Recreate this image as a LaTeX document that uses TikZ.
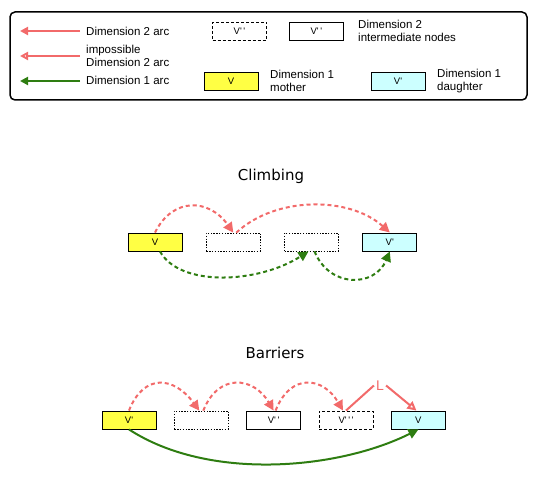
\documentclass[tikz,border=0pt]{standalone}
\usepackage{fontspec}
\setmainfont{Liberation Sans}
\newfontfamily\titlefont{DejaVu Sans}
\usetikzlibrary{arrows.meta,positioning}
\definecolor{arcred}{RGB}{242,106,106}
\definecolor{arcgreen}{RGB}{46,125,17}
\definecolor{motheryellow}{RGB}{255,255,68}
\definecolor{daughtercyan}{RGB}{204,255,255}

\begin{document}
\begin{tikzpicture}[
            x=1pt, y=1pt,
            node distance=23.5pt,
            box/.style={rectangle, draw, line width=0.9pt, minimum width=54pt, minimum height=18pt, inner sep=0pt, font=\fontsize{9.5}{10}\selectfont},
            mother/.style={fill=motheryellow},
            daughter/.style={fill=daughtercyan},
            dashbox/.style={dash pattern=on 3pt off 2pt},
            dotbox/.style={line width=0.7pt, dash pattern=on 1.4pt off 1.4pt},
            legtext/.style={anchor=west, align=left, inner sep=0pt, font=\fontsize{11.5}{13}\selectfont},
            title/.style={font=\titlefont\fontsize{15}{18}\selectfont},
            redarc/.style={-{Triangle[length=10pt, width=10pt]}, line width=2pt, arcred},
            redopen/.style={-{Triangle[open, length=9pt, width=9pt]}, line width=2pt, arcred},
            greenarc/.style={-{Triangle[length=10pt, width=10pt]}, line width=2pt, arcgreen},
            dasharc/.style={dash pattern=on 4pt off 3pt}
        ]
            \useasboundingbox (0,0) rectangle (535,478);

            % Legend
            \draw[rounded corners=5pt, line width=1.5pt] (10,378) rectangle (527,466);
            \coordinate (ra) at (80,447);  \coordinate (la) at (20,447);
            \coordinate (rb) at (80,422);  \coordinate (lb) at (20,422);
            \coordinate (rc) at (80,397);  \coordinate (lc) at (20,397);
            \draw[redarc, -{Triangle[length=8pt, width=8pt]}] (ra) -- (la);
            \draw[redopen, -{Triangle[open, length=8pt, width=8pt]}] (rb) -- (lb);
            \draw[greenarc, -{Triangle[length=8pt, width=8pt]}] (rc) -- (lc);
            \node[legtext] (ta) at (86,447) {Dimension 2 arc};
            \node[legtext] (tb) at (86,422) {impossible\\Dimension 2 arc};
            \node[legtext] (tc) at (86,398) {Dimension 1 arc};

            \node[box, dashbox] (ldash) at (239.5,447) {V\textquotesingle\,\textquotesingle};
            \node[box, right=22pt of ldash] (lsolid) {V\textquotesingle\,\textquotesingle};
            \node[legtext] (tinter) at (358,447) {Dimension 2\\intermediate nodes};
            \node[box, mother] (lmother) at (231,397) {V};
            \node[legtext] (tmother) at (270,397) {Dimension 1\\mother};
            \node[box, daughter] (ldaughter) at (398,397) {V\textquotesingle};
            \node[legtext] (tdaughter) at (437,397) {Dimension 1\\daughter};

            % Climbing
            \node[title] (climbing) at (271,302) {Climbing};
            \node[box, mother] (cv) at (155,236) {V};
            \node[box, dotbox, right=of cv] (ca) {};
            \node[box, dotbox, right=of ca] (cb) {};
            \node[box, daughter, right=of cb] (cd) {V\textquotesingle};

            \draw[redarc, dasharc] (cv.north) .. controls +(18,36) and +(-24,34) .. (ca.north);
            \draw[redarc, dasharc] ([xshift=3pt]ca.north) .. controls +(40,37) and +(-40,36) .. (cd.north);
            \draw[greenarc, dasharc] ([xshift=5pt]cv.south) .. controls +(20,-36) and +(-50,-32) .. ([xshift=-3pt]cb.south);
            \draw[greenarc, dasharc] ([xshift=3pt]cb.south) .. controls +(15,-37) and +(-15,-36) .. (cd.south);

            % Barriers
            \node[title] (barriers) at (275,125) {Barriers};
            \node[box, mother] (bv) at (129,58) {V\textquotesingle};
            \node[box, dotbox, right=17.5pt of bv] (ba) {};
            \node[box, right=17.5pt of ba] (bvv) {V\textquotesingle\,\textquotesingle};
            \node[box, dashbox, right=17.5pt of bvv] (bvvv) {V\textquotesingle\,\textquotesingle\,\textquotesingle};
            \node[box, daughter, right=17.5pt of bvvv] (bd) {V};
            \node[text=arcred, inner sep=2pt, font=\fontsize{14}{15}\selectfont] (blocker) at (380,92.5) {L};

            \draw[redarc, dasharc] (bv.north) .. controls +(15,38) and +(-25,34) .. ([xshift=-2pt]ba.north);
            \draw[redarc, dasharc] ([xshift=2pt]ba.north) .. controls +(15,38) and +(-20,34) .. (bvv.north);
            \draw[redarc, dasharc] ([xshift=2pt]bvv.north) .. controls +(15,38) and +(-20,34) .. ([xshift=-3pt]bvvv.north);
            \draw[line width=2pt, arcred] (bvvv.north) -- (blocker.west);
            \draw[redopen] (blocker.east) -- ([xshift=-2pt]bd.north);
            \draw[greenarc] (bv.south) .. controls +(80,-52) and +(-80,-40) .. (bd.south);

        \end{tikzpicture}
\end{document}
